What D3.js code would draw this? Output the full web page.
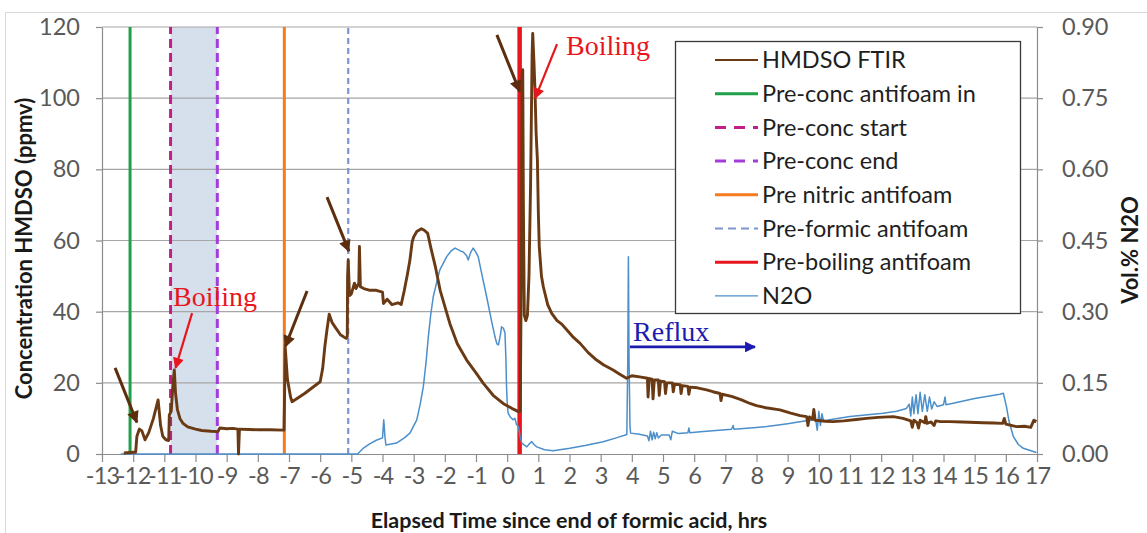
<!DOCTYPE html>
<html>
<head>
<meta charset="utf-8">
<script src="https://cdn.jsdelivr.net/npm/d3@7"></script>
<style>
  body { margin: 0; background: #fff; }
  svg { display: block; }
  text { font-family: Lato, "Open Sans", sans-serif; }
</style>
</head>
<body>
<svg id="chart" width="1147" height="533"></svg>
<script>
// ---- Data -------------------------------------------------------------
// HMDSO concentration (ppmv) vs elapsed time (hrs)
const hmdsoTime = [
  -12.3, -12.0, -11.92, -11.88, -11.8, -11.72, -11.62, -11.5, -11.35, -11.2,
  -11.12, -11.05, -10.95, -10.86, -10.84, -10.78, -10.72, -10.68, -10.64, -10.58,
  -10.5, -10.4, -10.25, -10.0, -9.8, -9.5, -9.28, -9.22, -9.0, -8.8,
  -8.64, -8.62, -8.59, -8.3, -8.0, -7.6, -7.2, -7.16, -7.14, -7.12,
  -7.05, -6.95, -6.9, -6.5, -6.0, -5.92, -5.85, -5.78, -5.71, -5.62,
  -5.53, -5.35, -5.17, -5.13, -5.12, -5.1, -5.06, -5.0, -4.9, -4.85,
  -4.76, -4.74, -4.71, -4.6, -4.4, -4.2, -4.0, -3.97, -3.85, -3.7,
  -3.5, -3.4, -3.3, -3.2, -3.12, -3.05, -3.0, -2.9, -2.75, -2.65,
  -2.55, -2.45, -2.3, -2.15, -2.0, -1.84, -1.6, -1.3, -1.0, -0.77,
  -0.45, -0.13, 0.2, 0.36, 0.42, 0.46, 0.48, 0.5, 0.52, 0.55,
  0.6, 0.65, 0.7, 0.75, 0.8, 0.82, 0.86, 0.89, 0.93, 0.97,
  1.0, 1.03, 1.1, 1.16, 1.3, 1.43, 1.6, 1.75, 1.91, 2.1,
  2.34, 2.6, 2.87, 3.1, 3.4, 3.6, 3.83, 4.0, 4.3, 4.5,
  4.52, 4.56, 4.65, 4.68, 4.72, 4.85, 4.88, 4.92, 5.05, 5.08,
  5.12, 5.3, 5.33, 5.37, 5.55, 5.58, 5.62, 5.8, 5.83, 5.87,
  6.1, 6.4, 6.6, 6.83, 6.86, 6.9, 7.2, 7.5, 7.79, 8.0,
  8.3, 8.75, 9.1, 9.4, 9.61, 9.65, 9.7, 9.8, 9.84, 9.88,
  10.0, 10.2, 10.46, 10.8, 11.2, 11.53, 11.9, 12.39, 12.7, 12.95,
  13.0, 13.05, 13.15, 13.2, 13.25, 13.4, 13.43, 13.47, 13.6, 13.7,
  13.75, 13.9, 14.2, 14.6, 15.27, 15.6, 15.9, 15.95, 16.0, 16.34,
  16.6, 16.8, 16.9, 16.98
];
const hmdsoConc = [
  0.3, 0.5, 0.5, 5, 7, 6.5, 4.0, 6, 10, 15.2,
  8, 5, 4, 3.8, 11, 12, 20, 23.6, 17, 12.5,
  10, 8.6, 7.6, 7.0, 6.6, 6.4, 6.3, 7.3, 7.1, 7.2,
  7.0, 0, 7.0, 6.9, 6.8, 6.8, 6.7, 6.7, 18, 29.8,
  21, 16, 14.7, 17, 20.3, 24, 30.2, 35, 39.3, 37,
  35.8, 33.5, 32.5, 33, 50, 54.5, 44.5, 45, 48, 46.5,
  48, 58.3, 47, 46.5, 46, 46, 45.5, 42.3, 43.5, 42,
  42.5, 42, 46, 50.5, 54.5, 59.5, 61, 62.5, 63.3, 62.8,
  62, 58, 52.5, 46, 41.5, 36.7, 31, 26.4, 22.8, 19.9,
  16.5, 14.2, 12.6, 11.9, 12, 60, 107, 108, 70, 39,
  37.5, 39, 50, 75, 112, 118.2, 110, 103, 90, 82.6,
  68, 58.3, 50, 47, 42, 39.5, 37.5, 36.5, 34.9, 33,
  31.1, 28.5, 26.4, 25, 23.6, 22.5, 21.3, 22, 21.6, 21.3,
  16, 21.2, 21, 15.5, 20.8, 20.8, 16.5, 20.5, 20.3, 17,
  20, 20, 17.5, 19.6, 19.5, 17, 19.2, 19, 16.8, 18.8,
  18.6, 18, 17.5, 17, 15, 16.8, 16.2, 15.3, 14.2, 13.6,
  13, 12.4, 11.5, 10.8, 10.5, 8, 10.4, 9.8, 12.5, 9.5,
  9.4, 9.2, 9.1, 9.3, 9.7, 10.0, 10.3, 10.5, 10.0, 9.3,
  7.5, 9.5, 8.8, 7.3, 9.5, 8.8, 10.5, 8.6, 9.0, 8.0,
  9.3, 9.1, 9.1, 9.0, 8.8, 8.7, 8.6, 10, 8.4, 7.7,
  7.8, 7.5, 9.5, 9.1
];

// N2O (vol.%) vs elapsed time (hrs), right axis
const n2oTime = [
  -12.4, -4.8, -4.6, -4.4, -4.2, -4.0, -3.96, -3.92, -3.89, -3.55,
  -3.3, -3.12, -2.9, -2.79, -2.69, -2.6, -2.53, -2.45, -2.37, -2.25,
  -2.16, -1.94, -1.8, -1.67, -1.5, -1.41, -1.3, -1.25, -1.17, -1.09,
  -1.0, -0.93, -0.8, -0.66, -0.5, -0.39, -0.33, -0.28, -0.22, -0.18,
  -0.12, -0.07, -0.04, -0.02, 0.0, 0.03, 0.1, 0.19, 0.25, 0.3,
  0.36, 0.42, 0.47, 0.63, 0.72, 0.79, 0.86, 0.95, 1.2, 1.48,
  2.01, 2.5, 3.08, 3.5, 3.84, 3.87, 3.89, 3.91, 3.94, 3.96,
  4.2, 4.5, 4.55, 4.6, 4.65, 4.7, 4.75, 4.8, 4.85, 4.95,
  5.2, 5.25, 5.3, 5.5, 5.8, 5.83, 5.86, 6.2, 6.8, 7.2,
  7.25, 7.28, 8.0, 8.33, 9.0, 9.39, 9.6, 9.9, 9.95, 10.0,
  10.05, 10.1, 10.15, 11.0, 12.06, 12.5, 12.81, 12.9, 12.95, 13.0,
  13.05, 13.12, 13.18, 13.25, 13.32, 13.4, 13.48, 13.55, 13.62, 13.7,
  13.8, 14.0, 14.05, 14.08, 14.31, 15.0, 15.81, 15.92, 16.02, 16.1,
  16.24, 16.4, 16.56, 16.98
];
const n2oVol = [
  0, 0, 0.013, 0.022, 0.029, 0.034, 0.072, 0.035, 0.019, 0.023,
  0.034, 0.044, 0.072, 0.105, 0.142, 0.195, 0.247, 0.295, 0.332, 0.365,
  0.388, 0.416, 0.428, 0.434, 0.428, 0.426, 0.418, 0.409, 0.425, 0.434,
  0.425, 0.416, 0.375, 0.332, 0.28, 0.247, 0.232, 0.23, 0.25, 0.268,
  0.265, 0.255, 0.2, 0.142, 0.11, 0.086, 0.078, 0.072, 0.075, 0.062,
  0.058, 0.035, 0.023, 0.015, 0.022, 0.026, 0.02, 0.015, 0.009, 0.007,
  0.012, 0.018, 0.026, 0.034, 0.041, 0.2, 0.416, 0.2, 0.06, 0.044,
  0.042, 0.038, 0.028, 0.048, 0.03, 0.046, 0.032, 0.045, 0.034, 0.04,
  0.04, 0.03, 0.048, 0.043, 0.045, 0.055, 0.045, 0.047, 0.05, 0.052,
  0.06, 0.052, 0.056, 0.058, 0.064, 0.068, 0.07, 0.072, 0.05, 0.09,
  0.06, 0.085, 0.07, 0.079, 0.086, 0.09, 0.096, 0.105, 0.08, 0.12,
  0.085, 0.125, 0.085, 0.13, 0.09, 0.125, 0.09, 0.12, 0.095, 0.11,
  0.1, 0.104, 0.12, 0.104, 0.107, 0.117, 0.126, 0.128, 0.1, 0.07,
  0.037, 0.02, 0.012, 0.003
];

// Process events (vertical markers), in hours
const eventNames = [
  "Pre-conc antifoam in", "Pre-conc start", "Pre-conc end",
  "Pre nitric antifoam", "Pre-formic antifoam", "Pre-boiling antifoam"
];
const eventTimes = [-12.1, -10.8, -9.3, -7.15, -5.1, 0.4];

// Axis ticks
const xTicks = [-13, -12, -11, -10, -9, -8, -7, -6, -5, -4, -3, -2, -1, 0, 1, 2, 3, 4, 5, 6, 7, 8, 9, 10, 11, 12, 13, 14, 15, 16, 17];
const yTicks = [0, 20, 40, 60, 80, 100, 120];
const y2Ticks = [0, 0.15, 0.30, 0.45, 0.60, 0.75, 0.90];

// Annotation arrows: [time0, ppmv0, time1, ppmv1]
const brownArrows = [
  [-12.58, 24.2, -11.88, 8.9],
  [-6.42, 45.8, -7.12, 30.2],
  [-5.78, 72.2, -5.08, 57.0],
  [-0.33, 117.8, 0.40, 101.9]
];
const redArrows = [
  [-10.11, 39.6, -10.64, 24.2],
  [1.60, 115.2, 0.90, 100.0]
];
const boilingLabels = [[-10.72, 41.6], [1.89, 112.1]];
const refluxArrow = [3.94, 30.1, 7.95, 30.1];
const refluxLabel = [4.04, 31.8];

// ---- Styles -----------------------------------------------------------
const eventStyle = {
  "Pre-conc antifoam in": { color: "#1fa049", width: 3, dash: null, legendDash: null },
  "Pre-conc start":       { color: "#c21f86", width: 3, dash: "9,5", legendDash: "11,8" },
  "Pre-conc end":         { color: "#a43cdc", width: 3, dash: "9,5", legendDash: "11,8" },
  "Pre nitric antifoam":  { color: "#f47b20", width: 3, dash: null, legendDash: null },
  "Pre-formic antifoam":  { color: "#7f95d1", width: 2.2, dash: "6,4", legendDash: "8,5" },
  "Pre-boiling antifoam": { color: "#e8161c", width: 4.5, dash: null, legendDash: null }
};
const brown = "#6a3a14";
const n2oColor = "#4b8fcb";

// ---- Layout -----------------------------------------------------------
const svg = d3.select("#chart");
const plot = { left: 102, right: 1037, top: 27, bottom: 454 };

const x = d3.scaleLinear().domain([-13, 17]).range([plot.left, plot.right]);
const y = d3.scaleLinear().domain([0, 120]).range([plot.bottom, plot.top]);
const y2 = d3.scaleLinear().domain([0, 0.9]).range([plot.bottom, plot.top]);

// chart-area frame
svg.append("rect")
  .attr("x", 5.5).attr("y", 12.5).attr("width", 1200).attr("height", 600)
  .attr("fill", "none").attr("stroke", "#d9d9d9").attr("stroke-width", 1);

const defs = svg.append("defs");
function marker(id, color, w, h) {
  defs.append("marker")
    .attr("id", id).attr("viewBox", "0 0 10 10")
    .attr("refX", 9).attr("refY", 5)
    .attr("markerUnits", "userSpaceOnUse")
    .attr("markerWidth", w).attr("markerHeight", h)
    .attr("orient", "auto")
    .append("path").attr("d", "M0,0 L10,5 L0,10 Z").attr("fill", color);
}
marker("ah-brown", "#5c2e0e", 14, 12);
marker("ah-red", "#e8161c", 13, 11);
marker("ah-blue", "#1c1cb0", 13, 11);

// pre-concentration window shading
svg.append("rect")
  .attr("x", x(eventTimes[1])).attr("y", plot.top)
  .attr("width", x(eventTimes[2]) - x(eventTimes[1]))
  .attr("height", plot.bottom - plot.top)
  .attr("fill", "#d6dfec");

// horizontal gridlines
svg.append("g").selectAll("line")
  .data(yTicks.filter(d => d > 0))
  .join("line")
  .attr("x1", plot.left).attr("x2", plot.right)
  .attr("y1", d => y(d)).attr("y2", d => y(d))
  .attr("stroke", "#a6a6a6").attr("stroke-width", 1.2);

// axes
function styleAxis(g) {
  g.select(".domain").attr("stroke", "#8c8c8c").attr("stroke-width", 1.2);
  g.selectAll(".tick line").attr("stroke", "#8c8c8c").attr("stroke-width", 1.2);
  g.selectAll(".tick text").attr("fill", "#595959")
    .style("font-family", "Lato, sans-serif").style("font-size", "23.5px");
}
svg.append("g").attr("transform", `translate(0,${plot.bottom})`)
  .call(d3.axisBottom(x).tickValues(xTicks).tickFormat(d => String(d))
    .tickSize(8).tickSizeOuter(0).tickPadding(5))
  .call(styleAxis)
  .call(g => g.selectAll(".tick text").attr("letter-spacing", "-0.8px"));
svg.append("g").attr("transform", `translate(${plot.left},0)`)
  .call(d3.axisLeft(y).tickValues(yTicks).tickSize(6).tickSizeOuter(0).tickPadding(16))
  .call(styleAxis);
svg.append("g").attr("transform", `translate(${plot.right},0)`)
  .call(d3.axisRight(y2).tickValues(y2Ticks).tickFormat(d3.format(".2f"))
    .tickSize(6).tickSizeOuter(0).tickPadding(19))
  .call(styleAxis);

// axis titles
svg.append("text")
  .attr("transform", `translate(32,${(plot.top + plot.bottom) / 2 + 8}) rotate(-90)`)
  .attr("text-anchor", "middle").attr("font-weight", "bold")
  .attr("font-size", 22).attr("fill", "#1a1a1a")
  .text("Concentration HMDSO (ppmv)");
svg.append("text")
  .attr("x", 569).attr("y", 528)
  .attr("text-anchor", "middle").attr("font-weight", "bold")
  .attr("font-size", 21.5).attr("fill", "#1a1a1a")
  .text("Elapsed Time since end of formic acid, hrs");
svg.append("text")
  .attr("transform", `translate(1138,250) rotate(-90)`)
  .attr("text-anchor", "middle").attr("font-weight", "bold")
  .attr("font-size", 22).attr("fill", "#1a1a1a")
  .text("Vol.% N2O");

// event markers
svg.append("g").selectAll("line")
  .data(eventNames)
  .join("line")
  .attr("x1", (d, i) => x(eventTimes[i])).attr("x2", (d, i) => x(eventTimes[i]))
  .attr("y1", y(0)).attr("y2", y(120))
  .attr("stroke", d => eventStyle[d].color)
  .attr("stroke-width", d => eventStyle[d].width)
  .attr("stroke-dasharray", d => eventStyle[d].dash);

// N2O trace
const n2oPts = n2oTime.map((t, i) => [t, n2oVol[i]]);
svg.append("path")
  .datum(n2oPts)
  .attr("fill", "none").attr("stroke", n2oColor).attr("stroke-width", 1.5)
  .attr("stroke-linejoin", "round")
  .attr("d", d3.line().x(d => x(d[0])).y(d => y2(d[1])));

// HMDSO trace
const hmdsoPts = hmdsoTime.map((t, i) => [t, hmdsoConc[i]]);
svg.append("path")
  .datum(hmdsoPts)
  .attr("fill", "none").attr("stroke", brown).attr("stroke-width", 2.9)
  .attr("stroke-linejoin", "round")
  .attr("d", d3.line().x(d => x(d[0])).y(d => y(d[1])));

// annotations
function arrows(data, color, width, mk) {
  svg.append("g").selectAll("line")
    .data(data).join("line")
    .attr("x1", d => x(d[0])).attr("y1", d => y(d[1]))
    .attr("x2", d => x(d[2])).attr("y2", d => y(d[3]))
    .attr("stroke", color).attr("stroke-width", width)
    .attr("marker-end", `url(#${mk})`);
}
arrows(brownArrows, "#5c2e0e", 3, "ah-brown");
arrows(redArrows, "#e8161c", 2.2, "ah-red");
arrows([refluxArrow], "#1c1cb0", 2.6, "ah-blue");

svg.append("g").selectAll("text")
  .data(boilingLabels).join("text")
  .attr("x", d => x(d[0])).attr("y", d => y(d[1]))
  .attr("fill", "#e8161c")
  .style("font-family", "'Liberation Serif', 'DejaVu Serif', serif")
  .style("font-size", "28px")
  .text("Boiling");
svg.append("text")
  .attr("x", x(refluxLabel[0])).attr("y", y(refluxLabel[1]))
  .attr("fill", "#1c1cb0")
  .style("font-family", "'Liberation Serif', 'DejaVu Serif', serif")
  .style("font-size", "28px")
  .text("Reflux");

// legend
const legendItems = ["HMDSO FTIR", ...eventNames, "N2O"];
const lg = svg.append("g");
lg.append("rect")
  .attr("x", 675.5).attr("y", 41.5).attr("width", 345).attr("height", 272)
  .attr("fill", "#fff").attr("stroke", "#3a3a3a").attr("stroke-width", 1.3);
const rows = lg.selectAll("g.item").data(legendItems).join("g")
  .attr("class", "item")
  .attr("transform", (d, i) => `translate(0,${60 + i * 33.7})`);
rows.append("line")
  .attr("x1", 715).attr("x2", 758).attr("y1", 0).attr("y2", 0)
  .attr("stroke", d => d === "HMDSO FTIR" ? brown : d === "N2O" ? n2oColor : eventStyle[d].color)
  .attr("stroke-width", d => d === "HMDSO FTIR" ? 2 : d === "N2O" ? 1.4 : Math.min(eventStyle[d].width, 3))
  .attr("stroke-dasharray", d => eventStyle[d] ? eventStyle[d].legendDash : null);
rows.append("text")
  .attr("x", 762).attr("y", 0).attr("dy", "0.35em")
  .attr("font-size", 23.5).attr("fill", "#1f1f1f")
  .text(d => d);
</script>
</body>
</html>
